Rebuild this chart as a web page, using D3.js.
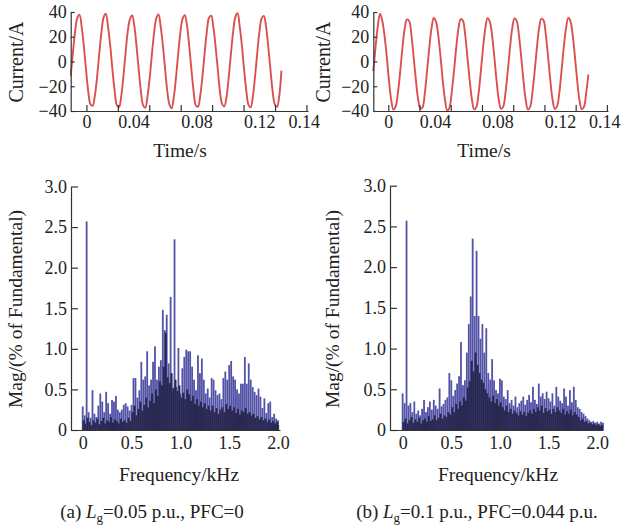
<!DOCTYPE html>
<html>
<head>
<meta charset="utf-8">
<script src="https://cdn.jsdelivr.net/npm/d3@7"></script>
<style>
  body { margin: 0; background: #fff; }
  text { font-family: "Liberation Serif", "Times New Roman", serif; fill: #222; }
  .axis path, .axis line { stroke: #333; stroke-width: 1.2; }
  .axis text { font-family: "Liberation Serif", "Times New Roman", serif; fill: #222; }
</style>
</head>
<body>
<svg id="chart" width="622" height="528"></svg>
<script>
const currentA = [
  -11.5, 6.8, 24.1, 35.2, 37.9, 28.0, 12.1, -6.9, -24.3, -34.6, -35.8, -27.6,
  -12.9, 6.1, 23.5, 35.7, 38.6, 27.9, 13.0, -6.2, -23.4, -35.1, -36.9, -28.5,
  -12.2, 7.0, 24.4, 34.3, 37.2, 28.6, 12.4, -6.8, -24.0, -35.5, -37.3, -28.0,
  -13.1, 5.9, 23.2, 35.0, 38.1, 28.1, 12.9, -5.9, -23.7, -34.9, -37.8, -28.4,
  -12.5, 6.6, 24.0, 34.6, 37.4, 28.8, 12.6, -6.5, -23.9, -35.3, -36.5, -27.9,
  -12.4, 6.5, 23.7, 35.4, 37.0, 27.7, 12.3, -6.0, -24.2, -34.4, -36.2, -28.7,
  -12.8, 6.2, 23.9, 35.9, 39.0, 28.4, 12.8, -6.6, -23.6, -35.0, -37.0, -28.2,
  -12.0, 6.9, 24.2, 34.9, 36.8, 28.2, 12.2, -6.3, -24.1, -34.7, -36.6, -28.1,
  -7.4
];
const currentB = [
  -7.8, 11.6, 28.4, 38.6, 33.0, 21.0, 4.1, -15.6, -31.2, -38.9, -36.1, -25.0,
  -8.2, 10.8, 26.5, 34.0, 32.8, 21.6, 3.5, -14.9, -30.5, -38.2, -36.9, -25.6,
  -7.5, 11.4, 27.1, 35.2, 32.1, 20.9, 4.0, -15.4, -31.0, -39.6, -37.2, -24.9,
  -8.0, 11.0, 26.6, 34.3, 32.9, 21.5, 3.6, -15.0, -30.6, -38.7, -36.8, -25.4,
  -7.7, 11.3, 27.0, 35.0, 32.3, 21.1, 3.9, -15.3, -30.9, -38.3, -36.4, -25.1,
  -7.9, 11.1, 26.7, 34.8, 32.6, 21.2, 3.7, -15.1, -30.7, -38.8, -36.6, -25.2,
  -8.1, 10.9, 26.9, 34.6, 33.1, 21.4, 3.8, -15.2, -30.8, -38.4, -36.3, -25.5,
  -7.6, 11.5, 26.8, 35.3, 32.4, 21.0, 3.4, -15.5, -31.1, -38.6, -36.7, -25.3,
  -10.5
];
// first sample time and sample spacing (s)
const startA = -0.01, stepA = 0.0013967;
const startB = -0.0096, stepB = 0.001435;

const timeTicks = [0, 0.02, 0.04, 0.06, 0.08, 0.1, 0.12, 0.14];
const timeLabels = [0, 0.04, 0.08, 0.12, 0.14];
const currentTicks = [-40, -20, 0, 20, 40];

// Harmonic spectra, % of fundamental, one bin every 0.02 kHz from 0
const binWidth = 0.02;
const magA = [
  0.29, 0.18, 2.57, 0.22, 0.15, 0.49, 0.20, 0.16, 0.30, 0.45,
  0.35, 0.22, 0.47, 0.33, 0.20, 0.37, 0.35, 0.42, 0.25, 0.22,
  0.25, 0.31, 0.33, 0.29, 0.24, 0.31, 0.64, 0.64, 0.40, 0.49,
  0.84, 0.62, 0.66, 0.97, 0.55, 0.62, 0.84, 1.03, 0.62, 0.78,
  0.86, 1.48, 1.23, 1.42, 0.82, 1.64, 0.49, 2.35, 0.53, 1.01,
  0.45, 0.76, 0.90, 0.99, 0.97, 0.97, 0.78, 0.62, 0.49, 0.92,
  0.70, 0.88, 0.62, 0.45, 0.51, 0.40, 0.64, 0.62, 0.49, 0.43,
  0.45, 0.38, 0.64, 0.72, 0.62, 0.80, 0.85, 0.66, 0.62, 0.50,
  0.45, 0.57, 0.57, 0.90, 0.57, 0.82, 0.62, 0.53, 0.47, 0.43,
  0.51, 0.41, 0.27, 0.39, 0.21, 0.33, 0.35, 0.16, 0.20, 0.14,
  0.12
];
// the dark, densely packed bins sitting between the light ones
const denseA = [
  0.12, 0.08, 0.15, 0.10, 0.06, 0.12, 0.09, 0.14, 0.07, 0.11,
  0.15, 0.08, 0.12, 0.10, 0.16, 0.09, 0.13, 0.11, 0.08, 0.14,
  0.10, 0.12, 0.09, 0.15, 0.11, 0.22, 0.30, 0.18, 0.26, 0.35,
  0.24, 0.31, 0.40, 0.28, 0.36, 0.45, 0.33, 0.50, 0.42, 0.60,
  0.55, 0.78, 1.20, 0.65, 0.58, 0.70, 0.52, 0.62, 0.48, 0.55,
  0.40, 0.46, 0.38, 0.50, 0.44, 0.36, 0.42, 0.32, 0.38, 0.30,
  0.35, 0.28, 0.33, 0.26, 0.30, 0.24, 0.30, 0.22, 0.27, 0.20,
  0.25, 0.28, 0.22, 0.32, 0.26, 0.30, 0.24, 0.28, 0.21, 0.26,
  0.19, 0.24, 0.22, 0.27, 0.20, 0.22, 0.18, 0.20, 0.15, 0.17,
  0.13, 0.16, 0.12, 0.14, 0.10, 0.13, 0.09, 0.11, 0.08, 0.10
];
const magB = [
  0.45, 0.33, 2.57, 0.30, 0.33, 0.22, 0.35, 0.20, 0.24, 0.18,
  0.26, 0.37, 0.22, 0.28, 0.35, 0.25, 0.37, 0.30, 0.26, 0.51,
  0.29, 0.32, 0.37, 0.40, 0.70, 0.61, 0.42, 0.49, 0.57, 0.66,
  1.08, 0.55, 0.61, 0.95, 1.30, 1.64, 2.35, 1.40, 2.20, 1.40,
  1.12, 1.30, 0.95, 1.25, 0.70, 0.62, 0.87, 0.61, 0.49, 0.45,
  0.63, 0.61, 0.41, 0.38, 0.49, 0.33, 0.37, 0.30, 0.41, 0.28,
  0.33, 0.36, 0.41, 0.31, 0.37, 0.43, 0.34, 0.53, 0.37, 0.32,
  0.57, 0.41, 0.45, 0.38, 0.47, 0.39, 0.35, 0.45, 0.30, 0.53,
  0.41, 0.36, 0.33, 0.51, 0.41, 0.30, 0.49, 0.34, 0.53, 0.37,
  0.28, 0.26, 0.22, 0.20, 0.17, 0.14, 0.12, 0.10, 0.11, 0.09,
  0.10, 0.08, 0.10, 0.09
];
const denseB = [
  0.10, 0.14, 0.08, 0.12, 0.16, 0.09, 0.13, 0.10, 0.15, 0.08,
  0.12, 0.14, 0.10, 0.17, 0.11, 0.13, 0.18, 0.12, 0.15, 0.20,
  0.14, 0.18, 0.16, 0.22, 0.19, 0.28, 0.22, 0.32, 0.26, 0.35,
  0.30, 0.40, 0.36, 0.52, 0.60, 0.85, 0.72, 0.95, 0.80, 0.70,
  0.62, 0.58, 0.50, 0.45, 0.40, 0.35, 0.42, 0.33, 0.38, 0.30,
  0.34, 0.28, 0.24, 0.30, 0.22, 0.26, 0.20, 0.24, 0.21, 0.18,
  0.23, 0.19, 0.22, 0.17, 0.21, 0.24, 0.20, 0.26, 0.22, 0.28,
  0.24, 0.30, 0.21, 0.27, 0.23, 0.25, 0.20, 0.26, 0.22, 0.28,
  0.24, 0.21, 0.26, 0.19, 0.23, 0.20, 0.25, 0.18, 0.22, 0.19,
  0.16, 0.12, 0.14, 0.10, 0.11, 0.08, 0.09, 0.07, 0.08, 0.06,
  0.07, 0.05, 0.06
];
const magTicks = [0, 0.5, 1.0, 1.5, 2.0, 2.5, 3.0];
const freqTicks = [0, 0.5, 1.0, 1.5, 2.0];

const svg = d3.select('#chart');
svg.append('rect').attr('width', 622).attr('height', 528).attr('fill', '#fff');

const waveColor = '#dc4f4f';
const lightBar = '#5252a6';
const darkBar = '#29284f';

function drawWave ({ values, start, step, xRange, xDomain, yRange, titleX, labelX }) {
  const x = d3.scaleLinear().domain(xDomain).range(xRange);
  const y = d3.scaleLinear().domain([-40, 40]).range(yRange);
  const g = svg.append('g');

  g.append('path')
    .datum(values)
    .attr('fill', 'none')
    .attr('stroke', waveColor)
    .attr('stroke-width', 1.9)
    .attr('d', d3.line()
      .x((d, i) => x(start + i * step))
      .y(d => y(d))
      .curve(d3.curveCatmullRom));

  const lastLabel = timeLabels[timeLabels.length - 1];
  g.append('g').attr('class', 'axis')
    .attr('transform', `translate(0,${yRange[0]})`)
    .call(d3.axisBottom(x).tickValues(timeTicks)
      .tickSizeInner(-6).tickSizeOuter(0).tickPadding(4)
      .tickFormat(d => timeLabels.includes(d) ? (d === 0 ? '0' : d3.format('.2f')(d)) : ''))
    .selectAll('text')
    .attr('font-size', 18)
    // the labels between the ends sit just left of their tick in the original
    .attr('text-anchor', d => d === 0 || d === lastLabel ? 'middle' : 'end')
    .attr('dx', d => d === lastLabel ? '-0.15em' : null);

  g.append('g').attr('class', 'axis')
    .attr('transform', `translate(${xRange[0]},0)`)
    .call(d3.axisLeft(y).tickValues(currentTicks)
      .tickSizeInner(-4).tickSizeOuter(0).tickPadding(4)
      .tickFormat(d3.format('d')))
    .selectAll('text').attr('font-size', 18);

  g.append('text')
    .attr('transform', `translate(${labelX},62) rotate(-90)`)
    .attr('text-anchor', 'middle')
    .attr('dy', '0.35em')
    .attr('font-size', 20)
    .text('Current/A');

  g.append('text')
    .attr('x', titleX).attr('y', 157)
    .attr('text-anchor', 'middle')
    .attr('font-size', 19.5)
    .text('Time/s');
}

function drawSpectrum ({ light, dense, xDomain, xRange, yRange, titleX, labelX }) {
  const x = d3.scaleLinear().domain(xDomain).range(xRange);
  const y = d3.scaleLinear().domain([0, 3]).range(yRange);
  const g = svg.append('g');

  g.append('g').selectAll('rect')
    .data(light)
    .join('rect')
    .attr('x', (d, i) => x(i * binWidth) - 0.9)
    .attr('width', 1.8)
    .attr('y', d => y(d))
    .attr('height', d => y(0) - y(d))
    .attr('fill', lightBar);

  g.append('g').selectAll('rect')
    .data(dense)
    .join('rect')
    .attr('x', (d, i) => x((i + 0.5) * binWidth) - 1)
    .attr('width', 2)
    .attr('y', d => y(d))
    .attr('height', d => y(0) - y(d))
    .attr('fill', darkBar);

  g.append('g').attr('class', 'axis')
    .attr('transform', `translate(0,${yRange[0]})`)
    .call(d3.axisBottom(x).tickValues(freqTicks)
      .tickSizeInner(-5).tickSizeOuter(0).tickPadding(6)
      .tickFormat(d => d === 0 ? '0' : d3.format('.1f')(d)))
    .selectAll('text').attr('font-size', 18);

  g.append('g').attr('class', 'axis')
    .attr('transform', `translate(${xRange[0]},0)`)
    .call(d3.axisLeft(y).tickValues(magTicks)
      .tickSizeInner(-7).tickSizeOuter(0).tickPadding(4)
      .tickFormat(d => d === 0 ? '0' : d3.format('.1f')(d)))
    .selectAll('text').attr('font-size', 18);

  g.append('text')
    .attr('transform', `translate(${labelX},309) rotate(-90)`)
    .attr('text-anchor', 'middle')
    .attr('dy', '0.35em')
    .attr('font-size', 19.5)
    .text('Mag/(% of Fundamental)');

  g.append('text')
    .attr('x', titleX).attr('y', 481)
    .attr('text-anchor', 'middle')
    .attr('font-size', 19.5)
    .text('Frequency/kHz');
}

function drawCaption (cx, tag, rest) {
  const t = svg.append('text')
    .attr('x', cx).attr('y', 518)
    .attr('text-anchor', 'middle')
    .attr('font-size', 19);
  t.append('tspan').text(tag + ' ');
  t.append('tspan').attr('font-style', 'italic').text('L');
  t.append('tspan').attr('font-size', 13).attr('dy', 4).text('g');
  t.append('tspan').attr('dy', -4).text(rest);
}

drawWave({
  values: currentA, start: startA, step: stepA,
  xDomain: [-0.01, 0.141], xRange: [70.7, 308], yRange: [111, 12],
  titleX: 180, labelX: 16
});
drawWave({
  values: currentB, start: startB, step: stepB,
  xDomain: [-0.0096, 0.1407], xRange: [373.3, 608], yRange: [111, 12],
  titleX: 484, labelX: 323
});
drawSpectrum({
  light: magA, dense: denseA,
  xDomain: [-0.12, 2.02], xRange: [71, 280], yRange: [430, 186.5],
  titleX: 179, labelX: 15
});
drawSpectrum({
  light: magB, dense: denseB,
  xDomain: [-0.13, 2.06], xRange: [390, 603], yRange: [430, 185.7],
  titleX: 498, labelX: 332
});
drawCaption(152, '(a)', '=0.05 p.u., PFC=0');
drawCaption(477, '(b)', '=0.1 p.u., PFC=0.044 p.u.');
</script>
</body>
</html>
